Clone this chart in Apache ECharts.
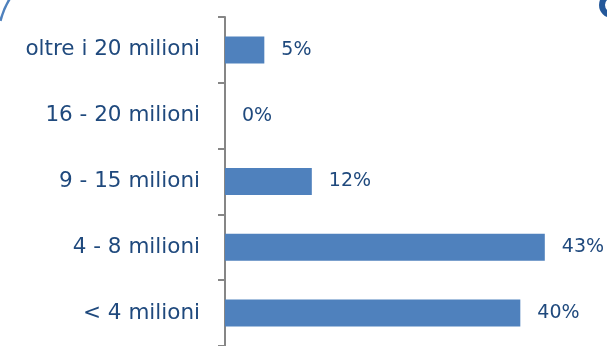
<!DOCTYPE html>
<html>
<head>
<meta charset="utf-8">
<script src="https://cdn.jsdelivr.net/npm/echarts@6/dist/echarts.min.js"></script>
<style>
    html, body { margin: 0; padding: 0; background: #fff; }
    #chart { width: 607px; height: 346px; }
</style>
</head>
<body>
<div id="chart"></div>
<script>
// categories listed bottom to top (category y axis starts at the bottom)
var categories = ["< 4 milioni", "4 - 8 milioni", "9 - 15 milioni", "16 - 20 milioni", "oltre i 20 milioni"];
var shares = [39.8, 43.1, 11.7, 0, 5.3];

var textColor = "#1F497D";
var barColor = "#4F81BD";

var myChart = echarts.init(document.getElementById("chart"));
myChart.setOption({
    animation: false,
    grid: {
        left: 225,
        right: 11,
        top: 17,
        height: 335
    },
    xAxis: {
        type: "value",
        min: 0,
        max: 50,
        show: false
    },
    yAxis: {
        type: "category",
        data: categories,
        axisLine: { lineStyle: { color: "#868686", width: 2 } },
        axisTick: { show: true, length: 7, lineStyle: { color: "#868686", width: 2 } },
        axisLabel: {
            margin: 25,
            color: textColor,
            fontFamily: "DejaVu Sans",
            fontSize: 21.5
        }
    },
    series: [
        {
            type: "bar",
            data: shares,
            barWidth: 27,
            itemStyle: { color: barColor },
            label: {
                show: true,
                position: "right",
                distance: 17,
                color: textColor,
                fontFamily: "DejaVu Sans",
                fontSize: 19,
                formatter: function (p) {
                    return Math.round(p.value) + "%";
                }
            }
        }
    ],
    // rounded frame corners peeking in at the top
    graphic: [
        {
            type: "arc",
            shape: { cx: 75, cy: 40, r: 77, startAngle: Math.PI * 1.08, endAngle: Math.PI * 1.3 },
            style: { stroke: "#4F81BD", lineWidth: 2.5, fill: null }
        },
        {
            type: "arc",
            shape: { cx: 612, cy: 5, r: 10, startAngle: 0, endAngle: Math.PI * 2 },
            style: { stroke: "#24589A", lineWidth: 6, fill: null }
        }
    ]
});
</script>
</body>
</html>
